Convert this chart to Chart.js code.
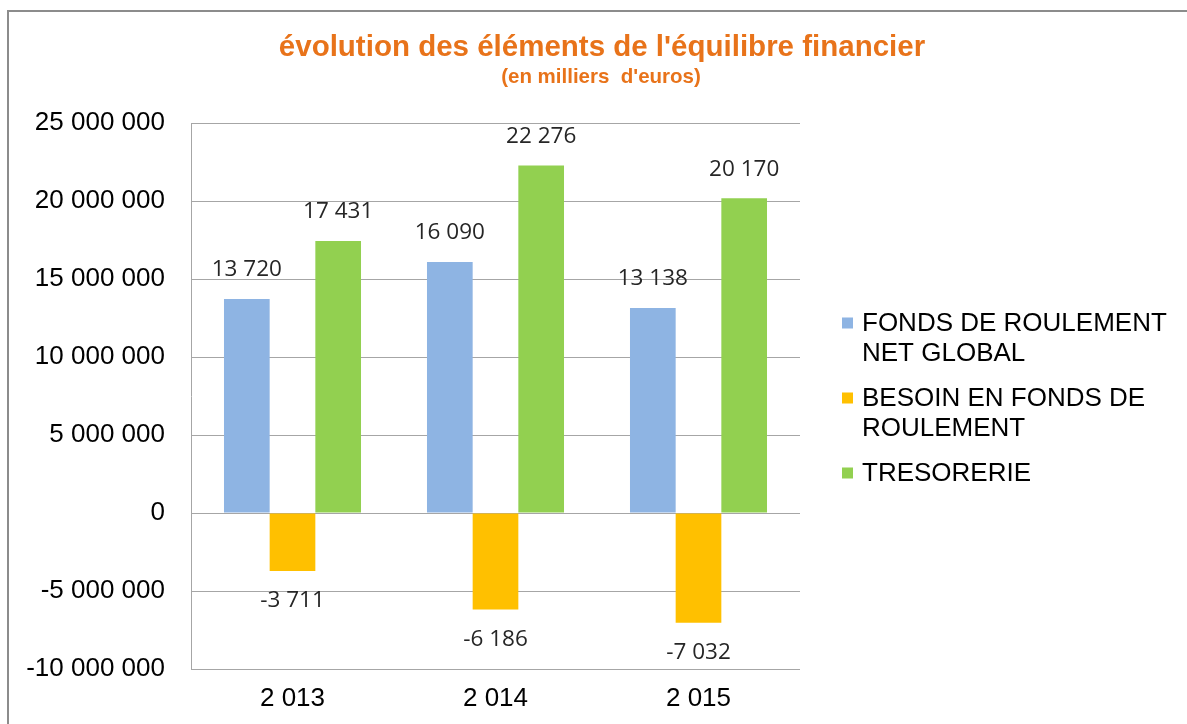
<!DOCTYPE html>
<html lang="fr">
<head>
<meta charset="utf-8">
<title>évolution des éléments de l'équilibre financier</title>
<script src="https://cdn.jsdelivr.net/npm/chart.js@4.4.1/dist/chart.umd.min.js"></script>
<style>
  html, body { margin: 0; padding: 0; background: #ffffff; overflow: hidden; }
  #frame {
    position: absolute; left: 7px; top: 10px; width: 1300px; height: 900px;
    border-left: 2px solid #8c8c8c; border-top: 2px solid #8c8c8c;
  }
  #c { position: absolute; left: 0; top: 0; }
</style>
</head>
<body>
<div id="frame"></div>
<canvas id="c" width="1187" height="724"></canvas>
<script>
// Years shown on the category axis
const categories = ["2 013", "2 014", "2 015"];

// Values in thousands of euros
const fondsRoulement = [13720, 16090, 13138];
const besoinFonds = [-3711, -6186, -7032];
const tresorerie = [17431, 22276, 20170];

// Legend entries (one array of lines per series)
const seriesNames = [
  ["FONDS DE ROULEMENT", "NET GLOBAL"],
  ["BESOIN EN FONDS DE", "ROULEMENT"],
  ["TRESORERIE"]
];
const seriesColors = ["#8EB4E3", "#FFC000", "#92D050"];

// Value axis
const yMin = -10000000;
const yMax = 25000000;
const yStep = 5000000;

const titleText = "évolution des éléments de l'équilibre financier";
const subtitleText = "(en milliers  d'euros)";

// Group digits by three with a space, French style
function spaced(n) {
  const neg = n < 0;
  const s = String(Math.abs(Math.round(n)));
  const out = s.replace(/\B(?=(\d{3})+(?!\d))/g, " ");
  return (neg ? "-" : "") + out;
}

const series = [fondsRoulement, besoinFonds, tresorerie];

const datasets = series.map((vals, i) => ({
  label: seriesNames[i].join(" "),
  data: vals.map(v => v * 1000),
  labelsK: vals,
  backgroundColor: seriesColors[i],
  borderWidth: 0,
  barPercentage: 1.0,
  categoryPercentage: 0.675
}));

// Title and subtitle above the plot
const titlePlugin = {
  id: "titleBlock",
  afterDraw(chart) {
    const ctx = chart.ctx;
    ctx.save();
    ctx.fillStyle = "#E8731A";
    ctx.textAlign = "center";
    ctx.textBaseline = "middle";
    ctx.font = "bold 29.5px 'Liberation Sans', Arial, sans-serif";
    ctx.fillText(titleText, 602, 48);
    ctx.font = "bold 20.5px 'Liberation Sans', Arial, sans-serif";
    ctx.fillText(subtitleText, 601, 77);
    ctx.restore();
  }
};

// Value labels at the end of each bar
const valueLabels = {
  id: "valueLabels",
  afterDatasetsDraw(chart) {
    const ctx = chart.ctx;
    ctx.save();
    ctx.font = "22.5px 'Open Sans', 'Liberation Sans', sans-serif";
    ctx.fillStyle = "#262626";
    ctx.textAlign = "center";
    ctx.textBaseline = "middle";
    chart.data.datasets.forEach((ds, di) => {
      const meta = chart.getDatasetMeta(di);
      meta.data.forEach((bar, j) => {
        const v = ds.labelsK[j];
        const y = v >= 0 ? bar.y - 29 : bar.y + 30;
        ctx.fillText(spaced(v), bar.x, y);
      });
    });
    ctx.restore();
  }
};

// Legend on the right, with wrapped entries
const sideLegend = {
  id: "sideLegend",
  afterDraw(chart) {
    const ctx = chart.ctx;
    ctx.save();
    ctx.font = "26px 'Liberation Sans', Arial, sans-serif";
    ctx.textBaseline = "middle";
    ctx.textAlign = "left";
    const x0 = 842, lineH = 30, gap = 15;
    let y = 323;
    seriesNames.forEach((lines, i) => {
      ctx.fillStyle = seriesColors[i];
      ctx.fillRect(x0, y - 5.5, 11, 11);
      ctx.fillStyle = "#000000";
      lines.forEach((ln, k) => ctx.fillText(ln, x0 + 20, y + k * lineH + 1));
      y += lines.length * lineH + gap;
    });
    ctx.restore();
  }
};

new Chart(document.getElementById("c"), {
  type: "bar",
  data: { labels: categories, datasets },
  options: {
    responsive: false,
    animation: false,
    layout: { padding: { left: 0, right: 387, top: 123, bottom: 0 } },
    plugins: {
      legend: { display: false },
      title: { display: false },
      tooltip: { enabled: false }
    },
    scales: {
      x: {
        grid: { display: false, drawTicks: false },
        border: { display: false },
        ticks: {
          color: "#000000",
          padding: 14,
          font: { family: "'Liberation Sans', Arial, sans-serif", size: 26 }
        },
        afterFit(scale) { scale.height = 55; }
      },
      y: {
        min: yMin,
        max: yMax,
        grid: { color: "#A6A6A6", lineWidth: 1, drawTicks: false },
        border: { display: true, color: "#A6A6A6", width: 1 },
        ticks: {
          stepSize: yStep,
          color: "#000000",
          padding: 26,
          font: { family: "'Liberation Sans', Arial, sans-serif", size: 26 },
          callback: v => spaced(v)
        },
        afterFit(scale) { scale.width = 191; }
      }
    }
  },
  plugins: [titlePlugin, valueLabels, sideLegend]
});
</script>
</body>
</html>
